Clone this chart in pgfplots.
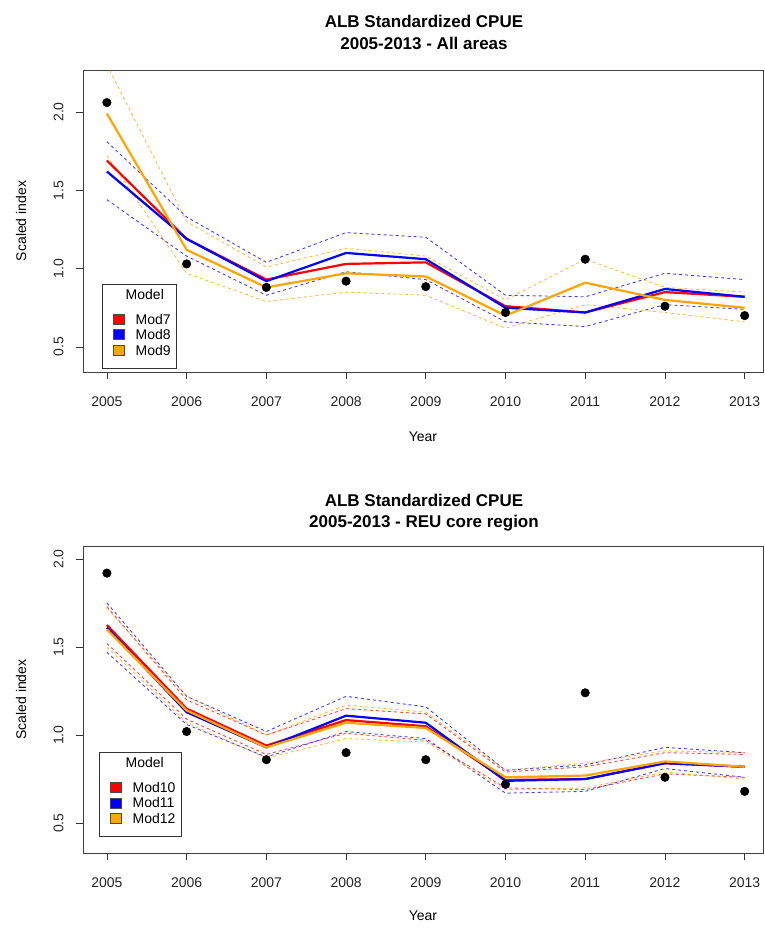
\documentclass[border=0pt]{standalone}
\usepackage{pgfplots}
\pgfplotsset{compat=1.18}
\usepackage{fontspec}
\setmainfont{Liberation Sans}
\definecolor{rorange}{HTML}{FFA500}
\definecolor{rred}{HTML}{FF0000}
\definecolor{rblue}{HTML}{0000FF}

\pgfplotsset{
  cpue/.style={
    scale only axis, width=680pt,
    xmin=2004.70, xmax=2013.23,
    xtick={2005,2006,2007,2008,2009,2010,2011,2012,2013},
    xticklabels={2005,2006,2007,2008,2009,2010,2011,2012,2013},
    ytick={0.5,1.0,1.5,2.0},
    yticklabels={0.5,1.0,1.5,2.0},
    axis line style={draw=black!75, line width=0.8pt},
    tick align=outside, tick pos=left, major tick length=7pt,
    tick style={draw=black!80, line width=0.8pt},
    every tick label/.append style={font=\fontsize{14}{16}\selectfont, text=black!85},
    yticklabel style={xshift=-9pt, rotate=90, anchor=south},
    xticklabel style={yshift=-14pt},
    label style={font=\fontsize{14}{16}\selectfont},
    legend style={draw=black!80, line width=0.8pt, font=\fontsize{14}{15}\selectfont,
      row sep=3.5pt, inner xsep=5pt, inner ysep=4pt, cells={anchor=west},
      nodes={inner sep=1pt, text depth={}}},
    clip=true,
  },
  ci/.style={line width=0.9pt, dash pattern=on 3pt off 3pt, opacity=0.75, forget plot},
  est/.style={line width=2.2pt, forget plot},
  obs/.style={only marks, mark=*, mark size=4.3pt, mark options={fill=black, draw=black}, forget plot},
  sw/.style={legend image code/.code={\draw[fill=#1, draw=black!70, line width=0.6pt] (6pt,-5pt) rectangle (17pt,5pt);}},
  swlast/.style={legend image code/.code={\draw[fill=#1, draw=black!70, line width=0.6pt] (6pt,-1pt) rectangle (17pt,9pt);}},
}

\begin{document}
\begin{tikzpicture}
\useasboundingbox (0,0) rectangle (765pt,929pt);

% ---------- titles ----------
\node[anchor=base, font=\bfseries\fontsize{17}{20}\selectfont] at (424pt,901pt) {ALB Standardized CPUE};
\node[anchor=base, font=\bfseries\fontsize{17}{20}\selectfont] at (424pt,879pt) {2005-2013 - All areas};
\node[anchor=base, font=\bfseries\fontsize{17}{20}\selectfont] at (424pt,422pt) {ALB Standardized CPUE};
\node[anchor=base, font=\bfseries\fontsize{17}{20}\selectfont] at (424pt,401pt) {2005-2013 - REU core region};

% ---------- top panel ----------
\begin{axis}[cpue, height=302pt, at={(83pt,557pt)}, anchor=south west,
  ymin=0.34, ymax=2.268,
  xlabel={Year}, ylabel={Scaled index},
  xlabel style={at={(axis description cs:0.5,-0.215)}, anchor=center},
  ylabel style={at={(axis description cs:-0.091,0.5)}, anchor=center, rotate=0},
  legend style={at={(axis description cs:0.028,0.01)}, anchor=south west},
]
\addlegendimage{empty legend}\addlegendentry{\hspace*{0pt}Model\rule[-9pt]{0pt}{9pt}}
\addlegendimage{sw=rred}\addlegendentry{\hspace*{10pt}Mod7}
\addlegendimage{sw=rblue}\addlegendentry{\hspace*{10pt}Mod8}
\addlegendimage{swlast=rorange}\addlegendentry{\hspace*{10pt}Mod9\rule[-8pt]{0pt}{8pt}}

% CI Mod8 (blue)
\addplot[ci, rblue] coordinates {(2005,1.81) (2006,1.33) (2007,1.04) (2008,1.23) (2009,1.20) (2010,0.83) (2011,0.82) (2012,0.97) (2013,0.93)};
\addplot[ci, rblue] coordinates {(2005,1.44) (2006,1.08) (2007,0.83) (2008,0.98) (2009,0.93) (2010,0.66) (2011,0.63) (2012,0.77) (2013,0.74)};
% CI Mod9 (orange)
\addplot[ci, rorange] coordinates {(2005,2.30) (2006,1.30) (2007,1.01) (2008,1.13) (2009,1.08) (2010,0.80) (2011,1.06) (2012,0.88) (2013,0.85)};
\addplot[ci, rorange] coordinates {(2005,1.72) (2006,0.97) (2007,0.79) (2008,0.85) (2009,0.83) (2010,0.62) (2011,0.77) (2012,0.72) (2013,0.66)};

% estimates
\addplot[est, rred] coordinates {(2005,1.69) (2006,1.19) (2007,0.93) (2008,1.03) (2009,1.04) (2010,0.76) (2011,0.72) (2012,0.85) (2013,0.82)};
\addplot[est, rblue] coordinates {(2005,1.62) (2006,1.19) (2007,0.92) (2008,1.10) (2009,1.06) (2010,0.75) (2011,0.72) (2012,0.87) (2013,0.82)};
\addplot[est, rorange] coordinates {(2005,1.99) (2006,1.12) (2007,0.88) (2008,0.97) (2009,0.95) (2010,0.70) (2011,0.91) (2012,0.80) (2013,0.75)};

% observed
\addplot[obs] coordinates {(2005,2.06) (2006,1.03) (2007,0.88) (2008,0.92) (2009,0.885) (2010,0.72) (2011,1.06) (2012,0.76) (2013,0.70)};
\end{axis}

% ---------- bottom panel ----------
\begin{axis}[cpue, height=307pt, at={(83pt,76pt)}, anchor=south west,
  ymin=0.33, ymax=2.074,
  xlabel={Year}, ylabel={Scaled index},
  xlabel style={at={(axis description cs:0.5,-0.205)}, anchor=center},
  ylabel style={at={(axis description cs:-0.091,0.5)}, anchor=center, rotate=0},
  legend style={at={(axis description cs:0.0235,0.052)}, anchor=south west},
]
\addlegendimage{empty legend}\addlegendentry{\hspace*{3pt}Model\rule[-9pt]{0pt}{9pt}}
\addlegendimage{sw=rred}\addlegendentry{\hspace*{10pt}Mod10}
\addlegendimage{sw=rblue}\addlegendentry{\hspace*{10pt}Mod11}
\addlegendimage{swlast=rorange}\addlegendentry{\hspace*{10pt}Mod12\rule[-8pt]{0pt}{8pt}}

% CI Mod10 (red)
\addplot[ci, rred] coordinates {(2005,1.73) (2006,1.20) (2007,1.00) (2008,1.15) (2009,1.12) (2010,0.79) (2011,0.82) (2012,0.90) (2013,0.89)};
\addplot[ci, rred] coordinates {(2005,1.52) (2006,1.09) (2007,0.89) (2008,1.01) (2009,0.97) (2010,0.70) (2011,0.69) (2012,0.78) (2013,0.76)};
% CI Mod11 (blue)
\addplot[ci, rblue] coordinates {(2005,1.75) (2006,1.22) (2007,1.02) (2008,1.22) (2009,1.16) (2010,0.80) (2011,0.83) (2012,0.93) (2013,0.90)};
\addplot[ci, rblue] coordinates {(2005,1.47) (2006,1.06) (2007,0.875) (2008,1.02) (2009,0.98) (2010,0.67) (2011,0.68) (2012,0.81) (2013,0.76)};
% CI Mod12 (orange)
\addplot[ci, rorange] coordinates {(2005,1.72) (2006,1.22) (2007,1.00) (2008,1.17) (2009,1.13) (2010,0.80) (2011,0.84) (2012,0.91) (2013,0.90)};
\addplot[ci, rorange] coordinates {(2005,1.50) (2006,1.07) (2007,0.87) (2008,0.98) (2009,0.96) (2010,0.69) (2011,0.70) (2012,0.79) (2013,0.75)};

% estimates
\addplot[est, rred] coordinates {(2005,1.625) (2006,1.15) (2007,0.94) (2008,1.085) (2009,1.05) (2010,0.745) (2011,0.75) (2012,0.84) (2013,0.82)};
\addplot[est, rblue] coordinates {(2005,1.61) (2006,1.13) (2007,0.93) (2008,1.11) (2009,1.07) (2010,0.74) (2011,0.75) (2012,0.84) (2013,0.82)};
\addplot[est, rorange] coordinates {(2005,1.60) (2006,1.14) (2007,0.93) (2008,1.07) (2009,1.04) (2010,0.76) (2011,0.77) (2012,0.85) (2013,0.82)};

% observed
\addplot[obs] coordinates {(2005,1.92) (2006,1.02) (2007,0.86) (2008,0.90) (2009,0.86) (2010,0.72) (2011,1.24) (2012,0.76) (2013,0.68)};
\end{axis}
\end{tikzpicture}
\end{document}
